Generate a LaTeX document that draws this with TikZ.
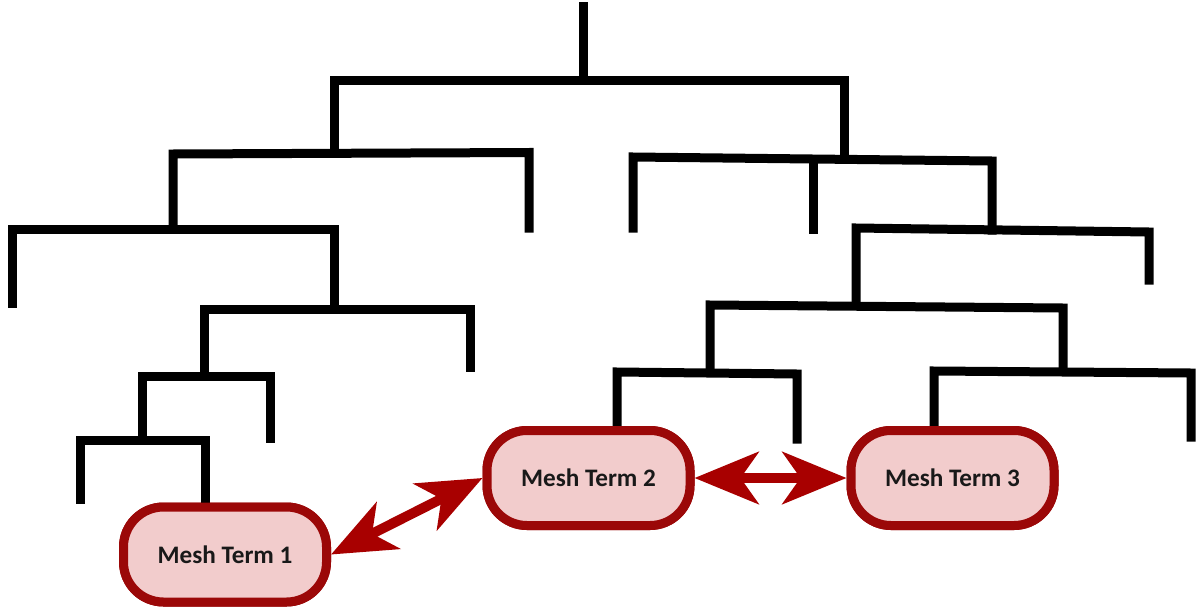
\documentclass[tikz,border=0pt]{standalone}
\usepackage{fontspec}
\setmainfont{Carlito}
\usetikzlibrary{arrows.meta}
\definecolor{boxborder}{RGB}{155,8,8}
\definecolor{boxfill}{RGB}{242,204,204}
\definecolor{arrred}{RGB}{168,0,0}
\definecolor{txt}{RGB}{25,25,25}
\tikzset{
  tree/.style={line width=4.5pt, black, line join=miter, line cap=rect},
  meshbox/.style={draw=boxborder, fill=boxfill, line width=4.5pt,
    rounded corners=20pt, minimum width=101.5pt, minimum height=47.5pt,
    inner sep=0pt, text=txt, font=\bfseries\fontsize{12.6}{14}\selectfont},
  link/.style={arrred, line width=5pt,
    {Stealth[length=32pt,width=26pt,inset=9pt]}-{Stealth[length=32pt,width=26pt,inset=9pt]}}
}
\begin{document}
\begin{tikzpicture}[x=0.5pt,y=-0.5pt]
\useasboundingbox (0,0) rectangle (1202,610);
% boxes
\node[meshbox] (mt1) at (225,554.5) {\raisebox{-3pt}{Mesh Term 1}};
\node[meshbox] (mt2) at (588.5,478) {Mesh Term 2};
\node[meshbox] (mt3) at (952.5,478) {Mesh Term 3};
% tree
\draw[tree] (583.5,7) -- (583.5,81);
\draw[tree] (334,153) -- (334,81) -- (844,81) -- (844,159);
\draw[tree] (173,229) -- (173,154) -- (529,152.5) -- (529,228);
\draw[tree] (633,228) -- (633,157) -- (992,161) -- (992,230);
\draw[tree] (813,159) -- (813,229);
\draw[tree] (856,304) -- (856,228) -- (1149,232) -- (1149,280);
\draw[tree] (710,372) -- (710,305) -- (1063,308) -- (1063,370);
\draw[tree] (mt2.north -| 617,0) -- (617,372) -- (797,374) -- (797,439);
\draw[tree] (mt3.north -| 934,0) -- (934,371) -- (1191,373) -- (1191,437);
\draw[tree] (12,303) -- (12,229) -- (334,229) -- (334,308);
\draw[tree] (204,376) -- (204,309) -- (470,309) -- (470,367);
\draw[tree] (142,436) -- (142,376) -- (270,376) -- (270,438);
\draw[tree] (80,499) -- (80,440) -- (205,440) -- (mt1.north -| 205,0);
% redraw boxes above tree ends
\node[meshbox] at (mt1) {\raisebox{-3pt}{Mesh Term 1}};
\node[meshbox] at (mt2) {Mesh Term 2};
\node[meshbox] at (mt3) {Mesh Term 3};
% links
\draw[link] (mt1.east) -- (mt2.west);
\draw[link] (mt2.east) -- (mt3.west);
\end{tikzpicture}
\end{document}
